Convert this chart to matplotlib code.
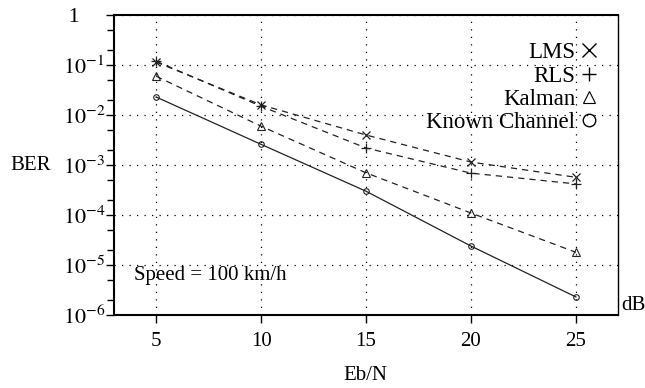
import matplotlib
matplotlib.use('Agg')
import matplotlib.pyplot as plt
import numpy as np
from matplotlib.lines import Line2D
from matplotlib.ticker import LogLocator, FixedLocator, NullFormatter

plt.rcParams['font.family'] = ['Liberation Serif', 'DejaVu Serif']
plt.rcParams['mathtext.fontset'] = 'stix'

snr = [5, 10, 15, 20, 25]
ber_lms = [0.115, 0.016, 0.0040, 0.00115, 0.00057]
ber_rls = [0.12, 0.015, 0.0022, 0.00069, 0.00042]
ber_kalman = [0.060, 0.0060, 0.00070, 0.00011, 0.000018]
ber_known = [0.023, 0.0026, 0.00030, 0.000024, 0.0000023]

ytick_vals = [1, 1e-1, 1e-2, 1e-3, 1e-4, 1e-5, 1e-6]
ytick_labels = [' 1', r'$10^{-1}$', r'$10^{-2}$', r'$10^{-3}$', r'$10^{-4}$', r'$10^{-5}$', r'$10^{-6}$']

fig = plt.figure(figsize=(6.45, 3.88), dpi=100)
ax = fig.add_axes([0.177, 0.188, 0.781, 0.773])

dash = (0, (5, 4))
ax.plot(snr, ber_lms, color='#222222', lw=0.9, ls=dash, marker='x', ms=6, mew=0.9)
ax.plot(snr, ber_rls, color='#222222', lw=0.9, ls=dash, marker='+', ms=7, mew=0.9)
ax.plot(snr, ber_kalman, color='#222222', lw=0.9, ls=dash, marker='^', ms=6,
        mfc='none', mew=0.8)
ax.plot(snr, ber_known, color='#222222', lw=0.9, ls='-', marker='o', ms=4,
        mfc='none', mew=0.8)

ax.set_yscale('log')
ax.set_ylim(1e-6, 1)
ax.set_xlim(3, 27)
ax.set_xticks(snr)
ax.yaxis.set_major_locator(FixedLocator(ytick_vals))
ax.set_yticklabels(ytick_labels)
ax.yaxis.set_minor_locator(LogLocator(base=10, subs=[2, 5]))
ax.yaxis.set_minor_formatter(NullFormatter())
ax.tick_params(axis='both', which='major', direction='out', length=6, width=1,
               labelsize=15)
ax.tick_params(axis='x', which='major', pad=6)
ax.tick_params(axis='y', which='major', pad=30.5, labelsize=16)
ax.tick_params(axis='y', which='minor', direction='out', length=5, width=1)
for lab in ax.get_yticklabels():
    lab.set_horizontalalignment('left')

ax.grid(True, which='major', color='black', ls=(0, (1, 5)), lw=0.9)
for s in ['left', 'bottom', 'top']:
    ax.spines[s].set_linewidth(1.5)
ax.spines['right'].set_linewidth(1.0)

handles = [
    Line2D([], [], color='black', ls='none', marker='x', ms=10, mew=1.0),
    Line2D([], [], color='black', ls='none', marker='+', ms=10, mew=1.0),
    Line2D([], [], color='black', ls='none', marker='^', ms=8, mfc='none', mew=0.8),
    Line2D([], [], color='black', ls='none', marker='o', ms=9, mfc='none', mew=1.0),
]
ax.legend(handles, ['LMS', 'RLS', 'Kalman', 'Known Channel'], loc='upper right',
          bbox_to_anchor=(0.993, 0.963), markerfirst=False, frameon=False,
          fontsize=16.5, handlelength=0.8, handletextpad=0.2, labelspacing=0.1,
          borderpad=0.2)

ax.text(140 / 645 - 0.177, 0.133, 'Speed = 100 km/h', fontsize=15,
        va='center', transform=ax.transAxes)
fig.text(31 / 645, 1 - 165 / 388, 'BER', fontsize=15, ha='center', va='center')
fig.text(365 / 645, 1 - 375 / 388, 'Eb/N', fontsize=15, ha='center', va='center')
fig.text(621 / 645, 1 - 305 / 388, 'dB', fontsize=15, ha='left', va='center')

fig.savefig('out.png', dpi=100)
